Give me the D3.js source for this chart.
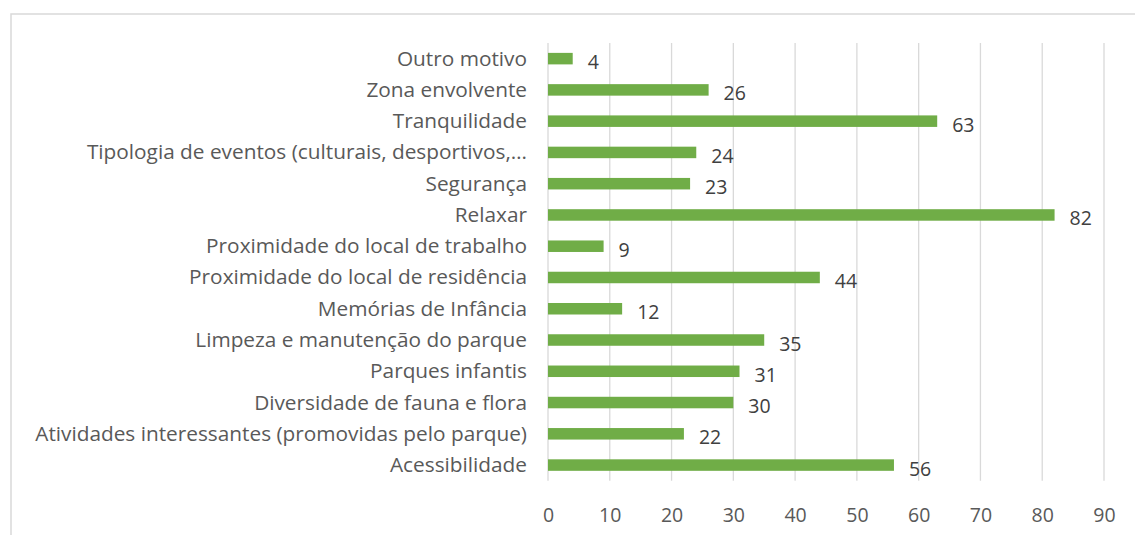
<!DOCTYPE html>
<html>
<head>
<meta charset="utf-8">
<script src="https://cdn.jsdelivr.net/npm/d3@7"></script>
<style>
  html, body { margin: 0; padding: 0; background: #fff; }
  svg { display: block; }
</style>
</head>
<body>
<svg id="chart" width="1135" height="535"></svg>
<script>
const categories = [
  "Outro motivo",
  "Zona envolvente",
  "Tranquilidade",
  "Tipologia de eventos (culturais, desportivos,…",
  "Segurança",
  "Relaxar",
  "Proximidade do local de trabalho",
  "Proximidade do local de residência",
  "Memórias de Infância",
  "Limpeza e manutenção do parque",
  "Parques infantis",
  "Diversidade de fauna e flora",
  "Atividades interessantes (promovidas pelo parque)",
  "Acessibilidade"
];
const values = [4, 26, 63, 24, 23, 82, 9, 44, 12, 35, 31, 30, 22, 56];
const xTicks = [0, 10, 20, 30, 40, 50, 60, 70, 80, 90];

const svg = d3.select("#chart");
const FONT = "'Open Sans', 'Noto Sans', sans-serif";

// chart frame (extends past right/bottom edges)
svg.append("rect")
  .attr("x", 11).attr("y", 14)
  .attr("width", 1200).attr("height", 600)
  .attr("fill", "#fff")
  .attr("stroke", "#d9d9d9").attr("stroke-width", 1.5);

// fit font size so the longest label has the reference width
const probe = svg.append("text").attr("font-family", FONT).attr("font-size", 20)
  .text(categories[12]);
const probeLen = probe.node().getComputedTextLength();
probe.remove();
const fs = 20 * 492 / probeLen;
const numFs = 19.5;

const plot = { left: 548, right: 1104, top: 43, bottom: 480.7 };

const x = d3.scaleLinear().domain([0, 90]).range([plot.left, plot.right]);
const y = d3.scaleBand().domain(categories)
  .range([plot.top, plot.bottom])
  .paddingInner(0.632).paddingOuter(0.316);

// gridlines
svg.append("g").selectAll("line").data(xTicks).join("line")
  .attr("x1", d => x(d)).attr("x2", d => x(d))
  .attr("y1", plot.top).attr("y2", plot.bottom)
  .attr("stroke", "#d9d9d9").attr("stroke-width", 1.3);

// bars
svg.append("g").selectAll("rect").data(values).join("rect")
  .attr("x", x(0))
  .attr("y", (d, i) => y(categories[i]))
  .attr("width", d => x(d) - x(0))
  .attr("height", y.bandwidth())
  .attr("fill", "#70ad47");

// value labels
svg.append("g").selectAll("text").data(values).join("text")
  .attr("x", d => x(d) + 15)
  .attr("y", (d, i) => y(categories[i]) + y.bandwidth() / 2 + 10.5)
  .attr("font-family", FONT).attr("font-size", numFs)
  .attr("fill", "#404040")
  .text(d => d);

// category labels
const yAxis = d3.axisLeft(y).tickSize(0).tickPadding(0);
const gy = svg.append("g").attr("transform", `translate(527,0)`).call(yAxis);
gy.select(".domain").remove();
gy.selectAll("text")
  .attr("dy", null).attr("x", 0).attr("y", 7)
  .attr("font-family", FONT).attr("font-size", fs)
  .attr("fill", "#595959");

// x tick labels
const xAxis = d3.axisBottom(x).tickValues(xTicks).tickSize(0).tickPadding(0);
const gx = svg.append("g").attr("transform", `translate(0,${plot.bottom})`).call(xAxis);
gx.select(".domain").remove();
gx.selectAll("text")
  .attr("dy", null).attr("y", 41.5)
  .attr("font-family", FONT).attr("font-size", numFs)
  .attr("fill", "#595959");
</script>
</body>
</html>
